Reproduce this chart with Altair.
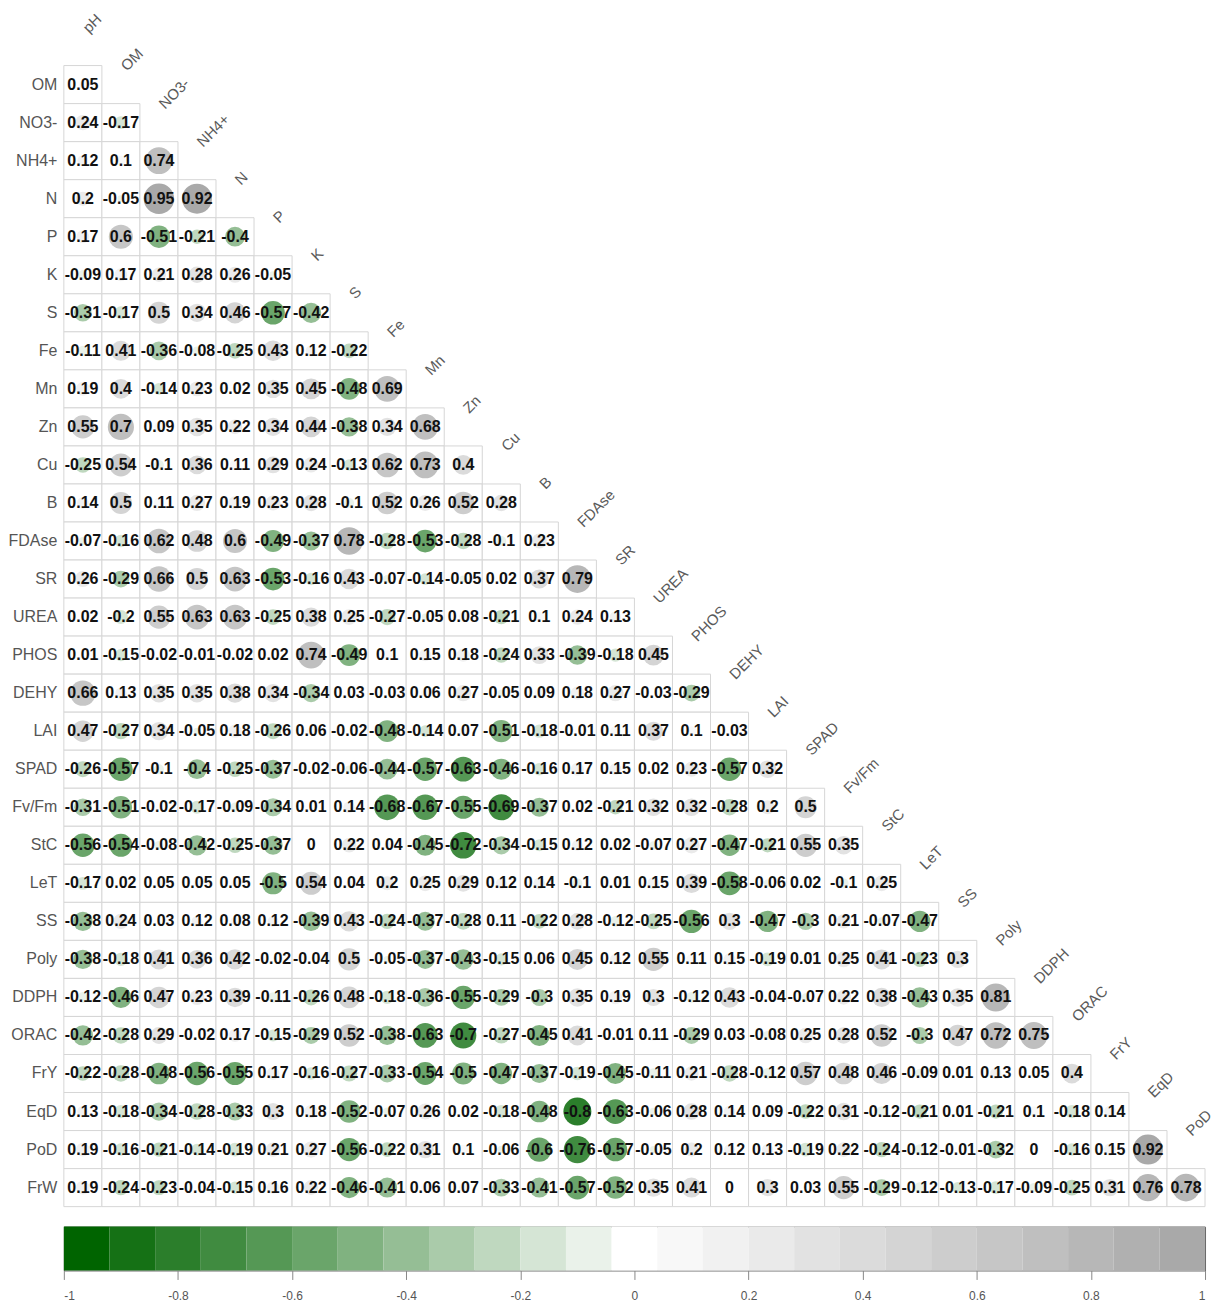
import altair as alt
import pandas as pd

# Variables in matrix order (rows run OM..FrW, columns run pH..PoD)
variables = ["pH", "OM", "NO3-", "NH4+", "N", "P", "K", "S", "Fe", "Mn", "Zn",
             "Cu", "B", "FDAse", "SR", "UREA", "PHOS", "DEHY", "LAI", "SPAD",
             "Fv/Fm", "StC", "LeT", "SS", "Poly", "DDPH", "ORAC", "FrY", "EqD",
             "PoD", "FrW"]
columns = variables[:-1]

# Lower-triangle correlation coefficients, one list per row
r_OM = [0.05]
r_NO3 = [0.24, -0.17]
r_NH4 = [0.12, 0.1, 0.74]
r_N = [0.2, -0.05, 0.95, 0.92]
r_P = [0.17, 0.6, -0.51, -0.21, -0.4]
r_K = [-0.09, 0.17, 0.21, 0.28, 0.26, -0.05]
r_S = [-0.31, -0.17, 0.5, 0.34, 0.46, -0.57, -0.42]
r_Fe = [-0.11, 0.41, -0.36, -0.08, -0.25, 0.43, 0.12, -0.22]
r_Mn = [0.19, 0.4, -0.14, 0.23, 0.02, 0.35, 0.45, -0.48, 0.69]
r_Zn = [0.55, 0.7, 0.09, 0.35, 0.22, 0.34, 0.44, -0.38, 0.34, 0.68]
r_Cu = [-0.25, 0.54, -0.1, 0.36, 0.11, 0.29, 0.24, -0.13, 0.62, 0.73, 0.4]
r_B = [0.14, 0.5, 0.11, 0.27, 0.19, 0.23, 0.28, -0.1, 0.52, 0.26, 0.52, 0.28]
r_FDAse = [-0.07, -0.16, 0.62, 0.48, 0.6, -0.49, -0.37, 0.78, -0.28, -0.53,
           -0.28, -0.1, 0.23]
r_SR = [0.26, -0.29, 0.66, 0.5, 0.63, -0.53, -0.16, 0.43, -0.07, -0.14, -0.05,
        0.02, 0.37, 0.79]
r_UREA = [0.02, -0.2, 0.55, 0.63, 0.63, -0.25, 0.38, 0.25, -0.27, -0.05, 0.08,
          -0.21, 0.1, 0.24, 0.13]
r_PHOS = [0.01, -0.15, -0.02, -0.01, -0.02, 0.02, 0.74, -0.49, 0.1, 0.15, 0.18,
          -0.24, 0.33, -0.39, -0.18, 0.45]
r_DEHY = [0.66, 0.13, 0.35, 0.35, 0.38, 0.34, -0.34, 0.03, -0.03, 0.06, 0.27,
          -0.05, 0.09, 0.18, 0.27, -0.03, -0.29]
r_LAI = [0.47, -0.27, 0.34, -0.05, 0.18, -0.26, 0.06, -0.02, -0.48, -0.14,
         0.07, -0.51, -0.18, -0.01, 0.11, 0.37, 0.1, -0.03]
r_SPAD = [-0.26, -0.57, -0.1, -0.4, -0.25, -0.37, -0.02, -0.06, -0.44, -0.57,
          -0.63, -0.46, -0.16, 0.17, 0.15, 0.02, 0.23, -0.57, 0.32]
r_FvFm = [-0.31, -0.51, -0.02, -0.17, -0.09, -0.34, 0.01, 0.14, -0.68, -0.67,
          -0.55, -0.69, -0.37, 0.02, -0.21, 0.32, 0.32, -0.28, 0.2, 0.5]
r_StC = [-0.56, -0.54, -0.08, -0.42, -0.25, -0.37, 0, 0.22, 0.04, -0.45,
         -0.72, -0.34, -0.15, 0.12, 0.02, -0.07, 0.27, -0.47, -0.21, 0.55, 0.35]
r_LeT = [-0.17, 0.02, 0.05, 0.05, 0.05, -0.5, 0.54, 0.04, 0.2, 0.25, 0.29,
         0.12, 0.14, -0.1, 0.01, 0.15, 0.39, -0.58, -0.06, 0.02, -0.1, 0.25]
r_SS = [-0.38, 0.24, 0.03, 0.12, 0.08, 0.12, -0.39, 0.43, -0.24, -0.37, -0.28,
        0.11, -0.22, 0.28, -0.12, -0.25, -0.56, 0.3, -0.47, -0.3, 0.21, -0.07,
        -0.47]
r_Poly = [-0.38, -0.18, 0.41, 0.36, 0.42, -0.02, -0.04, 0.5, -0.05, -0.37,
          -0.43, -0.15, 0.06, 0.45, 0.12, 0.55, 0.11, 0.15, -0.19, 0.01, 0.25,
          0.41, -0.23, 0.3]
r_DDPH = [-0.12, -0.46, 0.47, 0.23, 0.39, -0.11, -0.26, 0.48, -0.18, -0.36,
          -0.55, -0.29, -0.3, 0.35, 0.19, 0.3, -0.12, 0.43, -0.04, -0.07, 0.22,
          0.38, -0.43, 0.35, 0.81]
r_ORAC = [-0.42, -0.28, 0.29, -0.02, 0.17, -0.15, -0.29, 0.52, -0.38, -0.63,
          -0.7, -0.27, -0.45, 0.41, -0.01, 0.11, -0.29, 0.03, -0.08, 0.25, 0.28,
          0.52, -0.3, 0.47, 0.72, 0.75]
r_FrY = [-0.22, -0.28, -0.48, -0.56, -0.55, 0.17, -0.16, -0.27, -0.33, -0.54,
         -0.5, -0.47, -0.37, -0.19, -0.45, -0.11, 0.21, -0.28, -0.12, 0.57,
         0.48, 0.46, -0.09, 0.01, 0.13, 0.05, 0.4]
r_EqD = [0.13, -0.18, -0.34, -0.28, -0.33, 0.3, 0.18, -0.52, -0.07, 0.26, 0.02,
         -0.18, -0.48, -0.8, -0.63, -0.06, 0.28, 0.14, 0.09, -0.22, 0.31, -0.12,
         -0.21, 0.01, -0.21, 0.1, -0.18, 0.14]
r_PoD = [0.19, -0.16, -0.21, -0.14, -0.19, 0.21, 0.27, -0.56, -0.22, 0.31, 0.1,
         -0.06, -0.6, -0.76, -0.57, -0.05, 0.2, 0.12, 0.13, -0.19, 0.22, -0.24,
         -0.12, -0.01, -0.32, 0, -0.16, 0.15, 0.92]
r_FrW = [0.19, -0.24, -0.23, -0.04, -0.15, 0.16, 0.22, -0.46, -0.41, 0.06,
         0.07, -0.33, -0.41, -0.57, -0.52, 0.35, 0.41, 0, 0.3, 0.03, 0.55,
         -0.29, -0.12, -0.13, -0.17, -0.09, -0.25, 0.31, 0.76, 0.78]

row_values = [r_OM, r_NO3, r_NH4, r_N, r_P, r_K, r_S, r_Fe, r_Mn, r_Zn, r_Cu,
              r_B, r_FDAse, r_SR, r_UREA, r_PHOS, r_DEHY, r_LAI, r_SPAD, r_FvFm,
              r_StC, r_LeT, r_SS, r_Poly, r_DDPH, r_ORAC, r_FrY, r_EqD, r_PoD,
              r_FrW]

# Colour bar tick labels
bar_ticks = [-1, -0.8, -0.6, -0.4, -0.2, 0, 0.2, 0.4, 0.6, 0.8, 1]

# 25-step palette: dark green -> white -> dark grey
palette = ["#006400", "#157115", "#2B7E2B", "#408B40", "#559855", "#6AA56A",
           "#80B280", "#95BE95", "#AACBAA", "#BFD8BF", "#D5E5D5", "#EAF2EA",
           "#FFFFFF", "#F8F8F8", "#F1F1F1", "#EAEAEA", "#E2E2E2", "#DBDBDB",
           "#D4D4D4", "#CDCDCD", "#C6C6C6", "#BFBFBF", "#B7B7B7", "#B0B0B0",
           "#A9A9A9"]

# ---- tables -------------------------------------------------------------
cells = []
for i, vals in enumerate(row_values, start=1):
    for j, v in enumerate(vals):
        cells.append({"row": variables[i], "col": variables[j], "r": v,
                      "absr": abs(v), "label": f"{v:g}"})
cells = pd.DataFrame(cells)

diag = pd.DataFrame({"row": columns, "col": columns})

n_bins = len(palette)
step = 2 / n_bins
bins = pd.DataFrame({"lo": [-1 + k * step for k in range(n_bins)]})
bins["hi"] = bins["lo"] + step
bins["mid"] = bins["lo"] + step / 2

# ---- scales -------------------------------------------------------------
FONT = "Liberation Sans"
CELL = 38.14
W = round(CELL * len(columns))
H = round(CELL * len(variables))

xs = alt.Scale(type="band", domain=columns, paddingInner=0, paddingOuter=0,
               round=False)
ys = alt.Scale(type="band", domain=variables, paddingInner=0, paddingOuter=0,
               round=False)
color_scale = alt.Scale(type="quantize", domain=[-1, 1], range=palette,
                        nice=False)

y_axis = alt.Axis(title=None, values=variables[1:], domain=False, ticks=False,
                  grid=False, labelFont=FONT, labelFontSize=16,
                  labelColor="#555555", labelPadding=7)


def X(pos=None):
    if pos is None:
        return alt.X("col:N", scale=xs, axis=None)
    return alt.X("col:N", scale=xs, axis=None, bandPosition=pos)


def Y(pos=None):
    if pos is None:
        return alt.Y("row:N", scale=ys, axis=y_axis)
    return alt.Y("row:N", scale=ys, axis=y_axis, bandPosition=pos)


base = alt.Chart(cells)

grid = base.mark_rect(fill="white", stroke="#d6d6d6", strokeWidth=1).encode(
    x=X(), y=Y())

circles = base.mark_circle(opacity=1).encode(
    x=X(0.5), y=Y(0.5),
    size=alt.Size("absr:Q", scale=alt.Scale(domain=[0, 1], range=[0, 980]),
                  legend=None),
    color=alt.Color("r:Q", scale=color_scale, legend=None),
)

numbers = base.mark_text(font=FONT, fontSize=16, fontWeight="bold",
                         color="#111111", align="center",
                         baseline="middle").encode(
    x=X(0.5), y=Y(0.5), text="label:N")

col_labels = alt.Chart(diag).mark_text(
    font=FONT, fontSize=15, color="#5a5a5a", angle=315, align="left",
    baseline="alphabetic").encode(x=X(0.66), y=Y(0.16), text="col:N")

matrix = alt.layer(grid, circles, numbers, col_labels).properties(
    width=W, height=H, view=alt.ViewBackground(stroke="transparent"))

colorbar = alt.Chart(bins).mark_rect().encode(
    x=alt.X("lo:Q", scale=alt.Scale(domain=[-1, 1], nice=False, zero=False),
            axis=alt.Axis(title=None, values=bar_ticks, domain=False,
                          grid=False, ticks=True, tickSize=9,
                          tickColor="#888888", labelFont=FONT,
                          labelFontSize=12, labelColor="#555555",
                          labelPadding=11, labelExpr="'' + datum.value")),
    x2="hi:Q",
    color=alt.Color("mid:Q", scale=color_scale, legend=None),
).properties(width=W, height=44,
             view=alt.ViewBackground(stroke="#666666", strokeWidth=1))

chart = alt.vconcat(matrix, colorbar, spacing=20).properties(
    bounds="flush",
    padding={"left": 7, "top": 9, "right": 0, "bottom": 0},
    background="white",
)

chart.save("out.html", embed_options={"renderer": "svg", "actions": False})
